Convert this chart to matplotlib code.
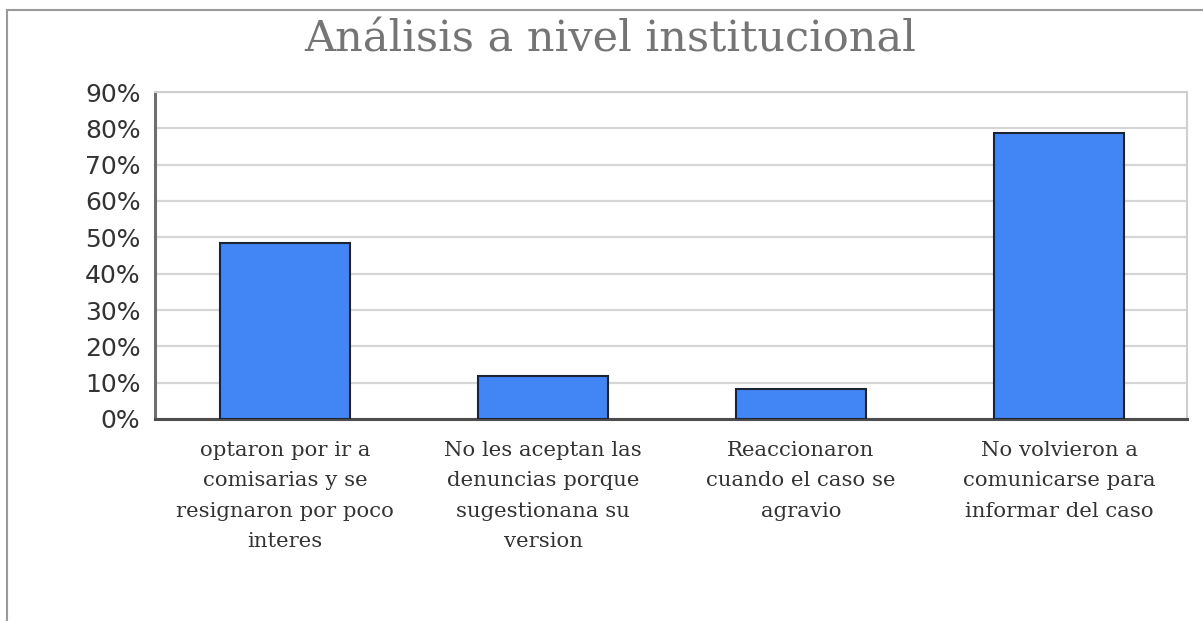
import numpy as np
import matplotlib.pyplot as plt
from matplotlib.lines import Line2D
from matplotlib.ticker import FuncFormatter

# datos
categorias = [
    "optaron por ir a\ncomisarias y se\nresignaron por poco\ninteres",
    "No les aceptan las\ndenuncias porque\nsugestionana su\nversion",
    "Reaccionaron\ncuando el caso se\nagravio",
    "No volvieron a\ncomunicarse para\ninformar del caso",
]
valores = [0.484, 0.118, 0.082, 0.786]
y_ticks = [0.0, 0.1, 0.2, 0.3, 0.4, 0.5, 0.6, 0.7, 0.8, 0.9]

W, H = 1203, 621
fig = plt.figure(figsize=(W / 100, H / 100), dpi=100)
fig.patch.set_facecolor("white")

# marco exterior (solo arriba e izquierda visibles)
fig.add_artist(Line2D([7 / W, 1.0], [1 - 10 / H, 1 - 10 / H],
                      transform=fig.transFigure, color="#9a9a9a", lw=1.5))
fig.add_artist(Line2D([7 / W, 7 / W], [0.0, 1 - 10 / H],
                      transform=fig.transFigure, color="#9a9a9a", lw=1.5))

ax = fig.add_axes([155 / W, 1 - 419 / H, (1187 - 155) / W, (419 - 92) / H])

x = np.arange(len(categorias))
ax.bar(x, valores, width=0.504, color="#4285F4", edgecolor="#1c2433",
       linewidth=1.5, zorder=3)

ax.set_xlim(-0.504, 3.496)
ax.set_ylim(0, 0.9)
ax.set_yticks(y_ticks)
ax.yaxis.set_major_formatter(FuncFormatter(lambda v, _: f"{v * 100:.0f}%"))
ax.grid(axis="y", color="#d6d6d6", lw=1.6, zorder=0)
ax.set_axisbelow(True)

for s in ["top", "right"]:
    ax.spines[s].set_color("#cfcfcf")
    ax.spines[s].set_linewidth(1.5)
ax.spines["left"].set_color("#6e6e6e")
ax.spines["left"].set_linewidth(2.2)
ax.spines["bottom"].set_color("#4d4d4d")
ax.spines["bottom"].set_linewidth(2.2)

ax.tick_params(axis="y", length=0, pad=10.5, labelsize=18, labelcolor="#333333")
ax.set_xticks([])

for xi, lab in zip(x, categorias):
    ax.text(xi, -0.068, lab, ha="center", va="top", fontsize=15.3,
            family="DejaVu Serif", color="#333333", linespacing=1.75,
            transform=ax.get_xaxis_transform())

fig.text(0.507, 1 - 40 / H, "Análisis a nivel institucional", ha="center",
         va="center", fontsize=31, family="DejaVu Serif", color="#757575")

fig.savefig("out.png", dpi=100)
